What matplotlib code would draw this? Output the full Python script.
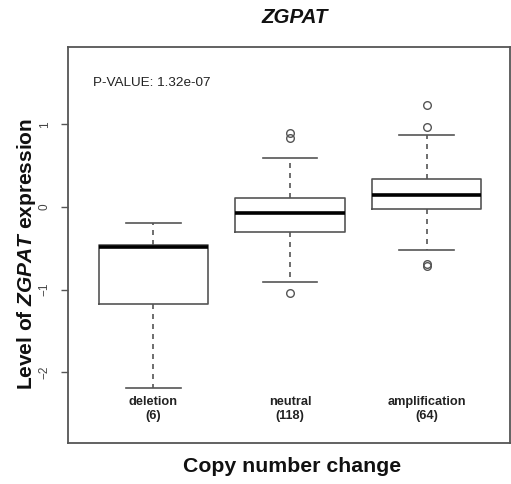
import matplotlib
matplotlib.use("Agg")
import matplotlib.pyplot as plt
from matplotlib.transforms import blended_transform_factory

plt.rcParams['font.family'] = ['Liberation Sans', 'DejaVu Sans']
plt.rcParams['mathtext.fontset'] = 'custom'
plt.rcParams['mathtext.rm'] = 'Liberation Sans'
plt.rcParams['mathtext.bf'] = 'Liberation Sans:bold'
plt.rcParams['mathtext.bfit'] = 'Liberation Sans:italic:bold'

categories = ["deletion", "neutral", "amplification"]
counts = [6, 118, 64]
q1 = [-1.18, -0.30, -0.02]
med = [-0.49, -0.07, 0.15]
q3 = [-0.465, 0.11, 0.335]
whislo = [-2.19, -0.915, -0.525]
whishi = [-0.195, 0.59, 0.865]
fliers = [[], [0.90, 0.83, -1.04], [1.24, 0.965, -0.69, -0.71]]
p_value_text = "P-VALUE: 1.32e-07"
gene = "ZGPAT"
yticks = [-2, -1, 0, 1]

W, H = 511, 484
fig = plt.figure(figsize=(W / 100, H / 100), dpi=100)
left, right, top, bottom = 68, 509.5, 47.3, 442.7
ax = fig.add_axes([left / W, 1 - bottom / H, (right - left) / W, (bottom - top) / H])

gray = "#555555"
stats = []
for i, c in enumerate(categories):
    stats.append(dict(q1=q1[i], med=med[i], q3=q3[i], whislo=whislo[i],
                      whishi=whishi[i], fliers=fliers[i], label=c))
positions = [1, 2, 3]
ax.bxp(stats, positions=positions, widths=0.8, showfliers=True,
       boxprops=dict(color=gray, linewidth=1.2),
       medianprops=dict(color="black", linewidth=2.6, solid_capstyle="butt"),
       whiskerprops=dict(color=gray, linewidth=1.2, linestyle=(0, (3, 3))),
       capprops=dict(color=gray, linewidth=1.2),
       capwidths=0.4,
       flierprops=dict(marker="o", markersize=5.5, markerfacecolor="none",
                       markeredgecolor=gray, markeredgewidth=1.0))

ax.set_xlim(0.376, 3.605)
ax.set_ylim(-2.855, 1.933)
ax.set_xticks([])
ax.set_yticks(yticks)
ax.set_yticklabels([str(t).replace("-", "\u2212") for t in yticks], rotation=90,
                   va="center", fontsize=8.5, color="#444444")
ax.tick_params(axis="y", length=5, width=1.0, color=gray, pad=7.5)
for s in ax.spines.values():
    s.set_color(gray)
    s.set_linewidth(1.3)

tr = blended_transform_factory(ax.transData, ax.transAxes)
for x, c, n in zip(positions, categories, counts):
    ax.text(x, 0.0857, f"{c}\n({n})", transform=tr, ha="center", va="center",
            fontsize=9.2, fontweight="bold", linespacing=1.27, color="#222222")

ax.text((93 - left) / (right - left), (bottom - 83) / (bottom - top), p_value_text,
        transform=ax.transAxes, ha="left", va="center", fontsize=9.7, color="#222222")

fig.text(295 / W, 1 - 17.5 / H, gene, ha="center", va="center", fontsize=14.8,
         fontweight="bold", fontstyle="italic", color="#111111")
fig.text(292 / W, 1 - 467 / H, "Copy number change", ha="center", va="center",
         fontsize=15.3, fontweight="bold", color="#111111")
fig.text(26.5 / W, 1 - 253.7 / H, "Level of $\\mathbfit{ZGPAT}$ expression", rotation=90,
         ha="center", va="center", fontsize=15, fontweight="bold", color="#111111")

fig.savefig("out.png", dpi=100)
